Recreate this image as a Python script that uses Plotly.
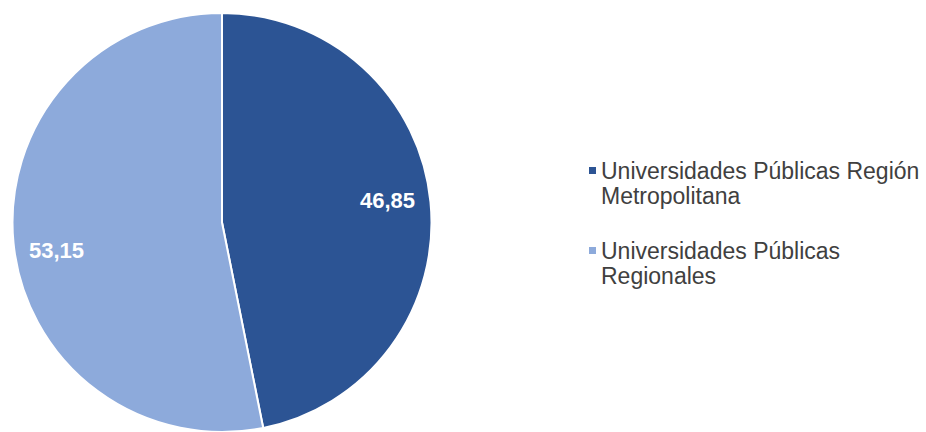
import math
import plotly.graph_objects as go

# Share of enrolment by type of public university (%)
categories = [
    "Universidades Públicas Región Metropolitana",
    "Universidades Públicas Regionales",
]
legend_lines = [
    ["Universidades Públicas Región", "Metropolitana"],
    ["Universidades Públicas", "Regionales"],
]
values = [46.85, 53.15]
colors = ["#2C5494", "#8DAADB"]

W, H = 926, 432
TOP = 13                      # top margin in px
PLOT_H = H - TOP
CX, CY = 222.0, TOP + PLOT_H / 2   # pie centre in screen px
R = PLOT_H / 2                      # pie radius in px


def px_to_paper(x, y):
    return x / W, (H - y) / PLOT_H


fig = go.Figure()
fig.add_trace(go.Pie(
    labels=categories,
    values=values,
    sort=False,
    direction="clockwise",
    rotation=0,
    marker=dict(colors=colors, line=dict(color="white", width=2)),
    textinfo="none",
    hoverinfo="label+value",
    showlegend=False,
    domain=dict(x=[(CX - R) / W, (CX + R) / W], y=[0, 1]),
))

annotations = []
shapes = []

# value labels placed inside each slice, near the outer edge
total = sum(values)
cum = 0.0
for v in values:
    theta = math.radians(360.0 * (cum + v / 2) / total - 3.0)
    cum += v
    lx = CX + 0.80 * R * math.sin(theta)
    ly = CY - 0.80 * R * math.cos(theta) + 3
    px, py = px_to_paper(lx, ly)
    annotations.append(dict(
        x=px, y=py, xref="paper", yref="paper",
        text=f"<b>{v:.2f}</b>".replace(".", ","),
        showarrow=False, xanchor="center", yanchor="middle",
        font=dict(family="Liberation Sans, Arial, sans-serif", size=22, color="white"),
    ))

# legend: small square swatch plus two text lines per entry
LEG_X_SQ = 589
LEG_X_TXT = 599
LEG_Y0 = 171
ENTRY_GAP = 80
LINE_GAP = 24.5
SQ = 7
for i, (lines, col) in enumerate(zip(legend_lines, colors)):
    y0 = LEG_Y0 + i * ENTRY_GAP
    x0p, y0p = px_to_paper(LEG_X_SQ, y0 - SQ / 2 - 0.5)
    x1p, y1p = px_to_paper(LEG_X_SQ + SQ, y0 + SQ / 2 - 0.5)
    shapes.append(dict(
        type="rect", xref="paper", yref="paper",
        x0=x0p, x1=x1p, y0=y1p, y1=y0p,
        fillcolor=col, line=dict(width=0),
    ))
    for j, line in enumerate(lines):
        tx, ty = px_to_paper(LEG_X_TXT, y0 + j * LINE_GAP)
        annotations.append(dict(
            x=tx, y=ty, xref="paper", yref="paper",
            text=line, showarrow=False, xanchor="left", yanchor="middle",
            font=dict(family="Liberation Sans, Arial, sans-serif", size=23, color="#404040"),
        ))

fig.update_layout(
    width=W, height=H,
    margin=dict(l=0, r=0, t=TOP, b=0, pad=0),
    paper_bgcolor="white",
    plot_bgcolor="white",
    annotations=annotations,
    shapes=shapes,
)

fig.write_html("out.html")
